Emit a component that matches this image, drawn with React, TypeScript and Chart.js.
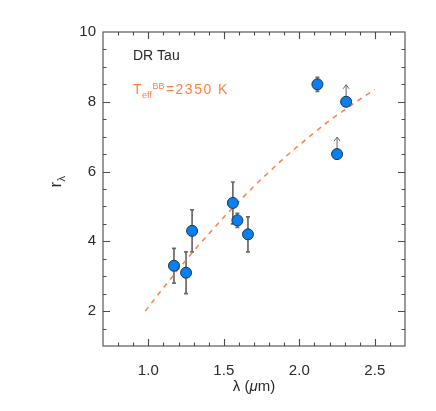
import React, { useEffect, useRef } from 'react';
import { Chart, registerables } from 'chart.js';

Chart.register(...registerables);

// Measured points with error bars
const wavelengths = [1.17, 1.25, 1.29, 1.56, 1.59, 1.66, 2.12];
const ratios = [3.3, 3.1, 4.3, 5.1, 4.6, 4.2, 8.5];
const ratioErrors = [0.5, 0.6, 0.6, 0.6, 0.2, 0.5, 0.2];
// Lower limits (arrows up)
const limitWavelengths = [2.25, 2.31];
const limitRatios = [6.5, 8.0];
// Blackbody model curve
const modelWavelengths = [0.98, 1.1, 1.2, 1.3, 1.4, 1.5, 1.6, 1.7, 1.8, 1.9, 2.0, 2.1, 2.2, 2.3, 2.4, 2.5];
const modelRatios = [2.0, 2.67, 3.2, 3.72, 4.21, 4.69, 5.14, 5.58, 5.99, 6.39, 6.76, 7.12, 7.46, 7.77, 8.07, 8.35];
// Axis ticks
const xTickValues = [1.0, 1.5, 2.0, 2.5];
const yTickValues = [2, 4, 6, 8, 10];

const FONT = '"Liberation Sans", Arial, Helvetica, sans-serif';
const TEXT = '#2a2a2a';
const ORANGE = '#ff7f3f';
const FRAME = '#4a4a4a';

const decorPlugin = {
  id: 'decor',
  beforeDatasetsDraw(chart: any) {
    const { ctx, scales } = chart;
    const x = scales.x;
    const y = scales.y;
    ctx.save();
    ctx.strokeStyle = '#6a6a6a';
    ctx.lineWidth = 1.7;
    wavelengths.forEach((w, i) => {
      const px = x.getPixelForValue(w);
      const top = y.getPixelForValue(ratios[i] + ratioErrors[i]);
      const bot = y.getPixelForValue(ratios[i] - ratioErrors[i]);
      ctx.beginPath();
      ctx.moveTo(px, top);
      ctx.lineTo(px, bot);
      ctx.moveTo(px - 2, top);
      ctx.lineTo(px + 2, top);
      ctx.moveTo(px - 2, bot);
      ctx.lineTo(px + 2, bot);
      ctx.stroke();
    });
    // lower-limit arrows
    ctx.strokeStyle = '#666';
    ctx.lineWidth = 1;
    limitWavelengths.forEach((w, i) => {
      const px = x.getPixelForValue(w);
      const py = y.getPixelForValue(limitRatios[i]);
      const tip = py - 17;
      ctx.beginPath();
      ctx.moveTo(px, py);
      ctx.lineTo(px, tip);
      ctx.moveTo(px - 3, tip + 4);
      ctx.lineTo(px, tip);
      ctx.lineTo(px + 3, tip + 4);
      ctx.stroke();
    });
    ctx.restore();
  },
  afterDraw(chart: any) {
    const { ctx, chartArea: a, scales } = chart;
    const x = scales.x;
    const y = scales.y;
    ctx.save();
    // frame
    ctx.strokeStyle = FRAME;
    ctx.lineWidth = 1.1;
    ctx.strokeRect(a.left, a.top, a.right - a.left, a.bottom - a.top);
    // x ticks (inward, top and bottom)
    ctx.lineWidth = 1.1;
    for (let k = 8; k <= 26; k++) {
      const v = k / 10;
      const major = k % 5 === 0;
      const len = major ? 7 : 3.5;
      const px = Math.round(x.getPixelForValue(v)) + 0.5;
      ctx.beginPath();
      ctx.moveTo(px, a.bottom);
      ctx.lineTo(px, a.bottom - len);
      ctx.moveTo(px, a.top);
      ctx.lineTo(px, a.top + len);
      ctx.stroke();
    }
    for (let k = 3; k <= 19; k++) {
      const v = k / 2;
      const major = k % 4 === 0;
      const len = major ? 7 : 3.5;
      const py = Math.round(y.getPixelForValue(v)) + 0.5;
      ctx.beginPath();
      ctx.moveTo(a.left, py);
      ctx.lineTo(a.left + len, py);
      ctx.moveTo(a.right, py);
      ctx.lineTo(a.right - len, py);
      ctx.stroke();
    }
    // x title: λ (μm)
    ctx.fillStyle = TEXT;
    ctx.textBaseline = 'alphabetic';
    ctx.textAlign = 'left';
    const parts = [
      { t: 'λ (', f: `15px ${FONT}` },
      { t: 'μ', f: `italic 15px ${FONT}` },
      { t: 'm)', f: `15px ${FONT}` },
    ];
    let total = 0;
    parts.forEach((p) => {
      ctx.font = p.f;
      total += ctx.measureText(p.t).width;
    });
    let cx = (a.left + a.right) / 2 - total / 2;
    parts.forEach((p) => {
      ctx.font = p.f;
      ctx.fillText(p.t, cx, 391);
      cx += ctx.measureText(p.t).width;
    });
    // y title: r_λ
    ctx.save();
    ctx.translate(61, 182);
    ctx.rotate(-Math.PI / 2);
    ctx.font = `17px ${FONT}`;
    const rw = ctx.measureText('r').width;
    ctx.font = `11px ${FONT}`;
    const lw = ctx.measureText('λ').width;
    const start = -(rw + lw) / 2;
    ctx.font = `17px ${FONT}`;
    ctx.fillText('r', start, 0);
    ctx.font = `11px ${FONT}`;
    ctx.fillText('λ', start + rw + 0.5, 4);
    ctx.restore();
    // annotations
    ctx.font = `14px ${FONT}`;
    ctx.fillStyle = TEXT;
    ctx.fillText('DR Tau', 133, 60);
    ctx.fillStyle = ORANGE;
    ctx.font = `14px ${FONT}`;
    ctx.fillText('T', 133, 94);
    let tx = 133 + ctx.measureText('T').width + 0.5;
    ctx.font = `9px ${FONT}`;
    ctx.fillText('eff', tx, 98);
    tx += ctx.measureText('eff').width + 0.5;
    ctx.fillText('BB', tx, 89);
    tx += ctx.measureText('BB').width + 1.5;
    ctx.font = `14px ${FONT}`;
    (ctx as any).letterSpacing = '1.5px';
    ctx.fillText('=2350 K', tx, 94);
    (ctx as any).letterSpacing = '0px';
    ctx.restore();
  },
};

export default function App() {
  const ref = useRef<HTMLCanvasElement>(null);
  useEffect(() => {
    if (!ref.current) return;
    const chart = new Chart(ref.current, {
      type: 'scatter',
      data: {
        datasets: [
          {
            label: 'data',
            data: wavelengths.map((w, i) => ({ x: w, y: ratios[i] })),
            pointRadius: 5.5,
            pointBackgroundColor: '#0a7ff0',
            pointBorderColor: '#1c3550',
            pointBorderWidth: 1,
            showLine: false,
            order: 0,
          },
          {
            label: 'limits',
            data: limitWavelengths.map((w, i) => ({ x: w, y: limitRatios[i] })),
            pointRadius: 5.5,
            pointBackgroundColor: '#0a7ff0',
            pointBorderColor: '#1c3550',
            pointBorderWidth: 1,
            showLine: false,
            order: 0,
          },
          {
            label: 'model',
            data: modelWavelengths.map((w, i) => ({ x: w, y: modelRatios[i] })),
            showLine: true,
            borderColor: ORANGE,
            borderWidth: 1.5,
            borderDash: [5, 5],
            pointRadius: 0,
            tension: 0.4,
            cubicInterpolationMode: 'monotone',
            order: 2,
          },
        ],
      },
      options: {
        responsive: false,
        animation: false,
        layout: { padding: { top: 32, right: 31, left: 0, bottom: 0 } },
        plugins: {
          legend: { display: false },
          tooltip: { enabled: false },
          title: { display: false },
        },
        scales: {
          x: {
            type: 'linear',
            min: 0.7,
            max: 2.7,
            grid: { display: false, drawTicks: false },
            border: { display: false },
            afterBuildTicks: (s: any) => {
              s.ticks = xTickValues.map((v) => ({ value: v }));
            },
            afterFit: (s: any) => {
              s.height = 65;
            },
            ticks: {
              autoSkip: false,
              maxRotation: 0,
              padding: 16,
              color: TEXT,
              font: { family: FONT, size: 15 },
              callback: (v: any) => Number(v).toFixed(1),
            },
          },
          y: {
            type: 'linear',
            min: 1,
            max: 10,
            grid: { display: false, drawTicks: false },
            border: { display: false },
            afterBuildTicks: (s: any) => {
              s.ticks = yTickValues.map((v) => ({ value: v }));
            },
            afterFit: (s: any) => {
              s.width = 103;
            },
            ticks: {
              autoSkip: false,
              padding: 7,
              color: TEXT,
              font: { family: FONT, size: 15 },
              callback: (v: any) => String(v),
            },
          },
        },
      },
      plugins: [decorPlugin],
    } as any);
    return () => chart.destroy();
  }, []);
  return (
    <div style={{ position: 'absolute', left: 0, top: 0, width: 436, height: 411, background: '#fff' }}>
      <canvas ref={ref} width={436} height={411} style={{ width: 436, height: 411 }} />
    </div>
  );
}
